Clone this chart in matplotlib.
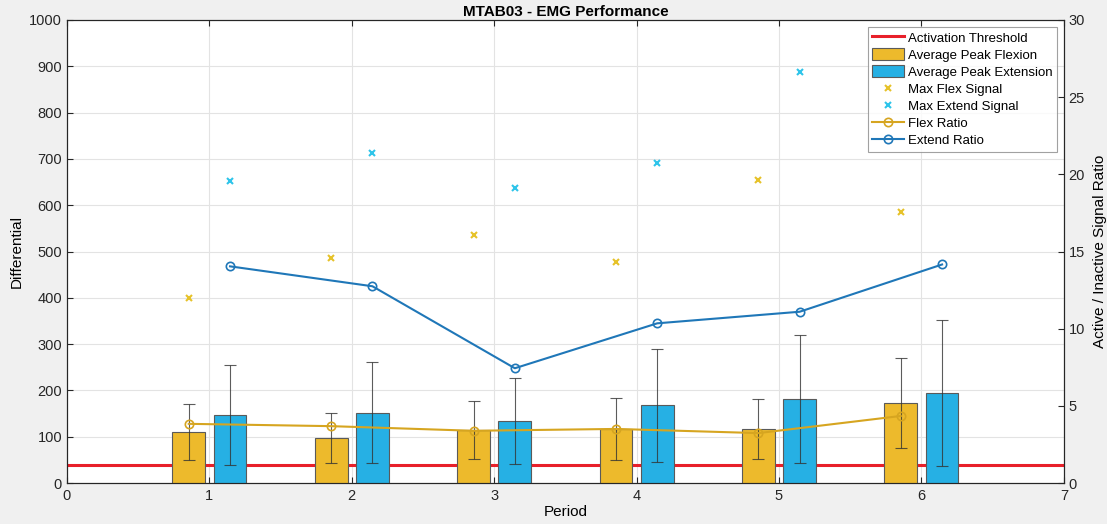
import matplotlib.pyplot as plt
import numpy as np

plt.rcParams['font.family'] = ['Liberation Sans', 'DejaVu Sans']

periods = [1, 2, 3, 4, 5, 6]
flex_mean = [110, 98, 115, 117, 117, 173]
flex_std = [61, 54, 62, 66, 65, 98]
extend_mean = [147, 152, 134, 168, 182, 195]
extend_std = [108, 109, 93, 122, 138, 158]
flex_max = [400, 487, 535, 477, 655, 585]
extend_max = [653, 712, 638, 692, 888, np.nan]
flex_ratio = [3.84, 3.69, 3.39, 3.51, 3.24, 4.35]
extend_ratio = [14.04, 12.75, 7.44, 10.35, 11.10, 14.16]
threshold = 40

c_flex = '#EDBA2C'
c_ext = '#26B0E4'
off = 0.145
w = 0.23

x = np.array(periods, dtype=float)
xf = x - off
xe = x + off

fig = plt.figure(figsize=(11.07, 5.24), dpi=100, facecolor='#f0f0f0')
ax = fig.add_axes([0.0605, 0.078, 0.9005, 0.884])
ax.set_facecolor('white')

th, = ax.plot([0, 7], [threshold, threshold], color='#e8202a', lw=2.2, zorder=2,
              label='Activation Threshold')
bf = ax.bar(xf, flex_mean, w, color=c_flex, edgecolor='#5a5a5a', lw=0.8, zorder=3,
            label='Average Peak Flexion')
be = ax.bar(xe, extend_mean, w, color=c_ext, edgecolor='#5a5a5a', lw=0.8, zorder=3,
            label='Average Peak Extension')
ax.errorbar(xf, flex_mean, yerr=flex_std, fmt='none', ecolor='#333333', elinewidth=0.8,
            capsize=4, capthick=0.8, alpha=0.8, zorder=4)
ax.errorbar(xe, extend_mean, yerr=extend_std, fmt='none', ecolor='#333333', elinewidth=0.8,
            capsize=4, capthick=0.8, alpha=0.8, zorder=4)
mf, = ax.plot(xf, flex_max, 'x', color='#E6C229', ms=5, mew=1.5, zorder=5,
              label='Max Flex Signal')
me, = ax.plot(xe, extend_max, 'x', color='#2EC4EA', ms=5, mew=1.5, zorder=5,
              label='Max Extend Signal')

ax.set_xlim(0, 7)
ax.set_ylim(0, 1000)
ax.set_xticks(range(8))
ax.set_yticks(range(0, 1001, 100))
ax.grid(True, color='#e3e3e3', lw=0.8, zorder=0)
ax.set_axisbelow(True)
ax.set_xlabel('Period', fontsize=11, labelpad=2)
ax.set_ylabel('Differential', fontsize=11, labelpad=4)
ax.set_title('MTAB03 - EMG Performance', fontsize=11, fontweight='bold', pad=3)

ax2 = ax.twinx()
ax2.set_ylim(0, 30)
ax2.set_yticks(range(0, 31, 5))
fr, = ax2.plot(xf, flex_ratio, '-o', color='#D6A520', lw=1.5, ms=6, mfc='none',
               mew=1.2, label='Flex Ratio')
er, = ax2.plot(xe, extend_ratio, '-o', color='#1F77B8', lw=1.5, ms=6, mfc='none',
               mew=1.2, label='Extend Ratio')
ax2.set_ylabel('Active / Inactive Signal Ratio', fontsize=11, labelpad=6)

for a in (ax, ax2):
    a.tick_params(direction='in', length=4, labelsize=10.5, color='#262626',
                  labelcolor='#262626')
    for s in a.spines.values():
        s.set_color('#262626')
        s.set_linewidth(0.8)
ax.tick_params(axis='x', top=True, pad=4)

leg = ax2.legend(handles=[th, bf, be, mf, me, fr, er], loc='upper right',
                 fontsize=9.5, frameon=True, fancybox=False, edgecolor='#8a8a8a',
                 borderpad=0.35, labelspacing=0.28, handlelength=2.4,
                 handleheight=1.0, handletextpad=0.3, borderaxespad=0.5)
leg.get_frame().set_linewidth(0.8)

fig.savefig('out.png', dpi=100, facecolor=fig.get_facecolor())
